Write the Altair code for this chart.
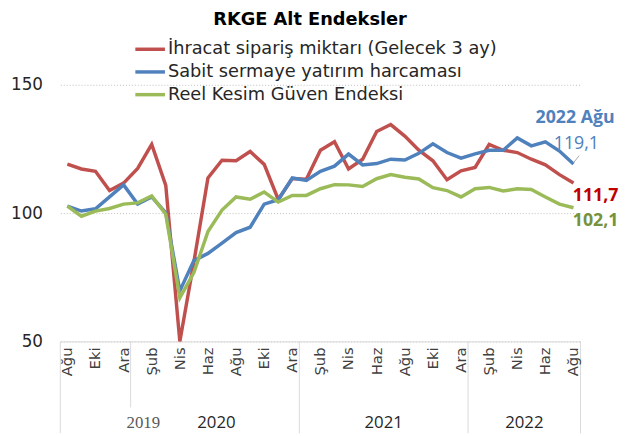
import altair as alt
import pandas as pd

months = ["Ağu", "Eyl", "Eki", "Kas", "Ara",
          "Oca", "Şub", "Mar", "Nis", "May", "Haz", "Tem", "Ağu", "Eyl", "Eki", "Kas", "Ara",
          "Oca", "Şub", "Mar", "Nis", "May", "Haz", "Tem", "Ağu", "Eyl", "Eki", "Kas", "Ara",
          "Oca", "Şub", "Mar", "Nis", "May", "Haz", "Tem", "Ağu"]

series_names = ["İhracat sipariş miktarı (Gelecek 3 ay)",
                "Sabit sermaye yatırım harcaması",
                "Reel Kesim Güven Endeksi"]
series_colors = ["#C0504D", "#4F81BD", "#9BBB59"]

ihracat = [119.1, 117.2, 116.3, 108.8, 111.7, 117.4, 126.8, 110.8, 50.0, 81.0,
           113.7, 120.6, 120.4, 124.0, 119.0, 105.3, 113.5, 113.2, 124.5, 127.8,
           117.2, 121.0, 131.8, 134.5, 130.0, 124.5, 120.4, 113.0, 116.5, 117.8,
           126.8, 124.5, 123.6, 121.0, 118.8, 115.0, 111.7]
sabit = [102.7, 100.8, 101.7, 106.3, 111.0, 103.5, 106.3, 100.1, 69.7, 81.5,
         84.3, 88.3, 92.4, 94.5, 103.5, 105.2, 113.7, 112.7, 116.3, 118.3,
         123.0, 118.8, 119.3, 121.0, 120.7, 123.3, 127.0, 123.6, 121.4, 123.1,
         124.5, 124.5, 129.3, 126.2, 127.8, 124.2, 119.1]
reel = [102.7, 98.8, 100.8, 101.8, 103.5, 104.0, 106.7, 99.6, 67.0, 76.8,
        92.8, 101.2, 106.3, 105.4, 108.2, 104.3, 106.9, 106.9, 109.5, 111.1,
        111.0, 110.4, 113.4, 115.0, 114.0, 113.3, 109.9, 108.8, 106.3, 109.5,
        110.0, 108.6, 109.5, 109.2, 106.3, 103.5, 102.1]

year_labels = ["2019", "2020", "2021", "2022"]
year_pos = [5.4, 10.6, 22.5, 32.5]
year_bounds = [-0.5, 4.5, 16.5, 28.5, 36.5]

title_text = "RKGE Alt Endeksler"

rows = []
for name, vals in zip(series_names, [ihracat, sabit, reel]):
    for i, v in enumerate(vals):
        rows.append({"i": i, "ay": months[i], "seri": name, "deger": v})
df = pd.DataFrame(rows)

FONT = "DejaVu Sans"
AFONT = "Open Sans"

xscale = alt.Scale(domain=[-0.5, 36.5], nice=False, zero=False)
yscale = alt.Scale(domain=[50, 150], nice=False, zero=False)
cscale = alt.Scale(domain=series_names, range=series_colors)

lines = alt.Chart(df).mark_line(strokeWidth=3.5).encode(
    x=alt.X("i:Q", scale=xscale,
            axis=alt.Axis(labels=False, ticks=False, grid=False,
                          domainColor="#d9d9d9", title=None)),
    y=alt.Y("deger:Q", scale=yscale,
            axis=alt.Axis(values=[50, 100, 150], labelFontSize=17, labelColor="#262626",
                          labelFont=FONT, labelPadding=18, ticks=False, domain=False,
                          grid=True, gridColor="#bfbfbf", gridDash=[1, 2], title=None)),
    color=alt.Color("seri:N", scale=cscale, legend=None),
    order="i:Q",
)

# month tick labels (every second month)
tick_df = pd.DataFrame({"i": list(range(0, 37, 2)),
                        "ay": [months[k] for k in range(0, 37, 2)]})
month_labels = alt.Chart(tick_df).mark_text(
    angle=270, align="right", baseline="middle", fontSize=15, font=FONT,
    color="#404040").encode(
    x=alt.X("i:Q", scale=xscale), y=alt.value(266), text="ay:N")

# manual legend
leg_df = pd.DataFrame({"seri": series_names, "k": list(range(len(series_names)))})
leg_base = alt.Chart(leg_df).transform_calculate(py="datum.k * 23 - 36")
leg_lines = leg_base.mark_rule(strokeWidth=3.5).encode(
    x=alt.value(76), x2=alt.value(106), y=alt.Y("py:Q", scale=None),
    color=alt.Color("seri:N", scale=cscale, legend=None))
leg_text = leg_base.mark_text(align="left", baseline="middle", fontSize=18, font=FONT,
                              color="#262626").encode(
    x=alt.value(109), y=alt.Y("py:Q", scale=None), text="seri:N")

title_df = pd.DataFrame({"t": [title_text]})
title = alt.Chart(title_df).mark_text(fontSize=18, font=FONT, fontWeight="bold",
                                      color="#000000", align="center",
                                      baseline="middle").encode(
    x=alt.value(253), y=alt.value(-66), text="t:N")

bounds_df = pd.DataFrame({"b": year_bounds})
seps = alt.Chart(bounds_df).mark_rule(color="#d9d9d9", strokeWidth=1).encode(
    x=alt.X("b:Q", scale=xscale), y=alt.value(260), y2=alt.value(353))

mask_df = pd.DataFrame({"a": [3.5], "b": [9.3]})
mask = alt.Chart(mask_df).mark_rect(color="white").encode(
    x=alt.X("a:Q", scale=xscale), x2="b:Q", y=alt.value(327), y2=alt.value(353))

years_df = pd.DataFrame({"t": year_labels, "p": year_pos})
years_main = alt.Chart(years_df[years_df.t != "2019"]).mark_text(
    fontSize=17, font=AFONT, color="#262626", baseline="middle").encode(
    x=alt.X("p:Q", scale=xscale), y=alt.value(343), text="t:N")
years_first = alt.Chart(years_df[years_df.t == "2019"]).mark_text(
    fontSize=17, font="Liberation Serif", color="#595959", baseline="middle").encode(
    x=alt.X("p:Q", scale=xscale), y=alt.value(343), text="t:N")

ann_df = pd.DataFrame({
    "t": ["2022 Ağu", "119,1", "111,7", "102,1"],
    "x": [33.3, 34.6, 35.95, 35.95],
    "y": [136.9, 126.9, 106.6, 96.9],
    "c": ["#4F81BD", "#4F81BD", "#C00000", "#76923C"],
    "w": ["bold", "normal", "bold", "bold"],
})
ann_bold = alt.Chart(ann_df[ann_df.w == "bold"]).mark_text(
    fontSize=18, font=AFONT, fontWeight="bold", align="left", baseline="middle").encode(
    x=alt.X("x:Q", scale=xscale), y=alt.Y("y:Q", scale=yscale), text="t:N",
    color=alt.Color("c:N", scale=None))
ann_norm = alt.Chart(ann_df[ann_df.w == "normal"]).mark_text(
    fontSize=18, font=AFONT, align="left", baseline="middle").encode(
    x=alt.X("x:Q", scale=xscale), y=alt.Y("y:Q", scale=yscale), text="t:N",
    color=alt.Color("c:N", scale=None))

lead_df = pd.DataFrame({"x": [36.0], "x2": [36.4], "y": [119.6], "y2": [122.4]})
leader = alt.Chart(lead_df).mark_rule(color="#a6a6a6", strokeWidth=1).encode(
    x=alt.X("x:Q", scale=xscale), x2="x2:Q",
    y=alt.Y("y:Q", scale=yscale), y2="y2:Q")

chart = alt.layer(seps, mask, years_main, years_first, month_labels, lines, leader,
                  ann_bold, ann_norm, leg_lines, leg_text, title).properties(
    width=527, height=260,
    autosize=alt.AutoSizeParams(type="none"),
    padding={"left": 53, "top": 75, "right": 42, "bottom": 93},
).resolve_scale(color="independent").configure_view(stroke=None)

chart.save("out.html", embed_options={"renderer": "svg", "actions": False})
